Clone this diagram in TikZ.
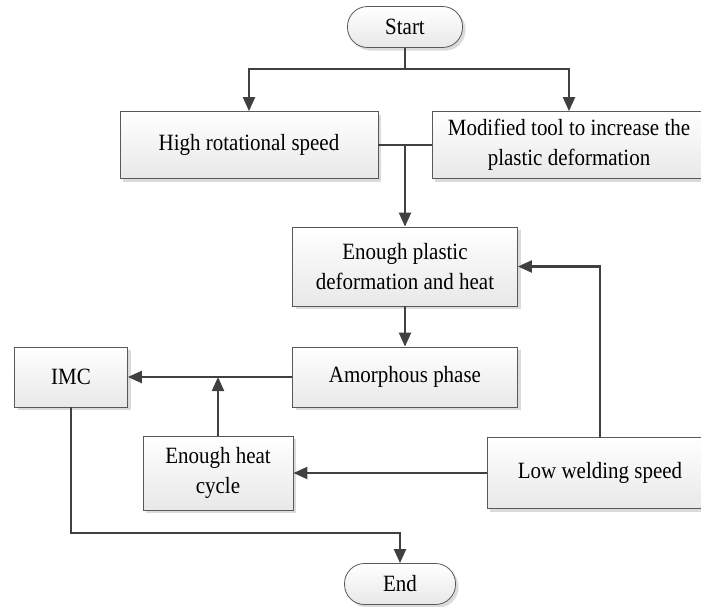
\documentclass[tikz,border=0pt]{standalone}
\usepackage{fontspec}
\setmainfont{Liberation Serif}
\newfontfamily\boxfont[FakeStretch=0.9]{Liberation Serif}
\usepackage{tikz}
\usetikzlibrary{arrows.meta,shadows}

\tikzset{
  box/.style={draw=black!65, line width=0.8pt, top color=white, bottom color=black!9,
    drop shadow={shadow xshift=3pt, shadow yshift=-3pt, fill=black!14, opacity=1},
    align=center, inner sep=2pt, font=\boxfont\fontsize{23.3}{30}\selectfont},
  term/.style={box, rounded corners=20pt},
  wire/.style={draw=black!75, line width=2.2pt},
  flow/.style={wire, -{Triangle[length=14pt,width=12pt]}}
}

\begin{document}
\begin{tikzpicture}[x=1pt,y=-1pt]
  \useasboundingbox (0,0) rectangle (701,606);
  \node [term, minimum width=115pt, minimum height=41pt] (start) at (405,27) {Start};
  \node [box, minimum width=258pt, minimum height=67pt] (rot) at (249,145) {High rotational speed};
  \node [box, minimum width=274pt, minimum height=67pt] (tool) at (569,145) {Modified tool to increase the\\plastic deformation};
  \node [box, minimum width=225pt, minimum height=79pt] (heat) at (405,266.5) {Enough plastic\\deformation and heat};
  \node [box, minimum width=225pt, minimum height=60pt] (amorph) at (405,377) {Amorphous phase};
  \node [box, minimum width=113pt, minimum height=60pt] (imc) at (71,377) {IMC};
  \node [box, minimum width=150pt, minimum height=74pt] (cycle) at (218,473) {Enough heat\\cycle};
  \node [box, minimum width=226pt, minimum height=71pt] (low) at (600,473) {Low welding speed};
  \node [term, minimum width=111pt, minimum height=41pt] (end) at (400,584) {End};
  \coordinate (split) at (405,69);
  \coordinate (merge) at (405,145);
  \coordinate (join) at (218,377);
  \coordinate (bend) at (400,533);
  \draw [wire] (start) -- (split);
  \draw [flow] (split) -| (rot);
  \draw [flow] (split) -| (tool);
  \draw [wire] (rot) -- (tool);
  \draw [flow] (merge) -- (heat);
  \draw [flow] (heat) -- (amorph);
  \draw [flow] (amorph) -- (imc);
  \draw [flow] (cycle) -- (join);
  \draw [flow] (low) -- (cycle);
  \draw [flow] (low) |- (heat);
  \draw [flow] (imc) |- (bend) -- (end);
\end{tikzpicture}
\end{document}
